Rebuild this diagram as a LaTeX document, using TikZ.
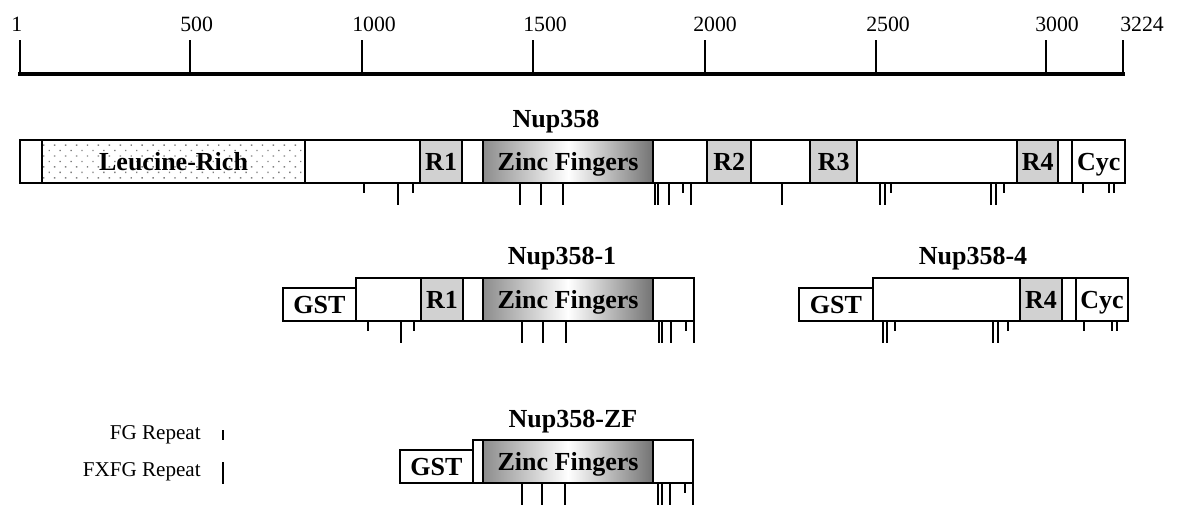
\documentclass[tikz,border=0pt]{standalone}
\usepackage{fontspec}
\setmainfont{Liberation Serif}
\usepackage{tikz}
\usetikzlibrary{positioning, patterns.meta}

\begin{document}
\begin{tikzpicture}[
  x=0.025cm, y=-0.025cm,
  seg/.style={draw, line width=1.3pt, outer sep=0pt, inner sep=0pt, minimum height=1.075cm, text height=12.6pt, text depth=0pt, font=\fontsize{18.5}{20}\selectfont\bfseries},
  plain/.style={seg, fill=white},
  rpt/.style={seg, fill=black!18},
  znf/.style={seg, left color=black!45, right color=black!55, middle color=white},
  lrr/.style={seg, pattern={Dots[distance=5.5pt, radius=0.7pt, angle=45]}, pattern color=black!50},
  gst/.style={seg, fill=white, minimum height=0.825cm},
  title/.style={font=\fontsize{18.5}{20}\selectfont\bfseries, anchor=base, inner sep=0pt},
  num/.style={font=\fontsize{15.5}{17}\selectfont, anchor=base west, inner sep=0pt},
  legtxt/.style={font=\fontsize{15}{16}\selectfont, anchor=east, inner sep=0pt},
  fg/.style={line width=1.3pt},
]
\useasboundingbox (0,0) rectangle (1181,506);

%% Scale bar
\draw[line width=2.2pt, line cap=rect] (20,74) -- (1123,74);
\foreach \x/\lab/\dx in {20/1/-9, 190/500/-10, 362/1000/-10, 533/1500/-10, 705/2000/-12, 876/2500/-10, 1046/3000/-11, 1123/3224/-3}{
  \draw[line width=1.6pt] (\x,40) -- (\x,74);
  \node[num] at (\x+\dx,31) {\lab};
}

%% Nup358
\node[title] (tnup) at (556,127) {Nup358};
\node[plain, anchor=north west, minimum width=0.55cm] (n0) at (20,140) {};
\node[lrr, right=0pt of n0, minimum width=6.575cm] (lrr) {Leucine-Rich};
\node[plain, right=0pt of lrr, minimum width=2.875cm] (n1) {};
\node[rpt, right=0pt of n1, minimum width=1.05cm] (r1) {R1};
\node[plain, right=0pt of r1, minimum width=0.525cm] (n2) {};
\node[znf, right=0pt of n2, minimum width=4.25cm] (zf) {Zinc Fingers};
\node[plain, right=0pt of zf, minimum width=1.35cm] (n3) {};
\node[rpt, right=0pt of n3, minimum width=1.1cm] (r2) {R2};
\node[plain, right=0pt of r2, minimum width=1.475cm] (n4) {};
\node[rpt, right=0pt of n4, minimum width=1.175cm] (r3) {R3};
\node[plain, right=0pt of r3, minimum width=4.0cm] (n5) {};
\node[rpt, right=0pt of n5, minimum width=1.025cm] (r4) {R4};
\node[plain, right=0pt of r4, minimum width=0.35cm] (n6) {};
\node[plain, right=0pt of n6, minimum width=1.325cm] (cyc) {Cyc};
\foreach \x/\l in {364/10, 398/22, 413/10, 520/22, 541/22, 563/22, 655/22, 658/22, 669/22, 683/10, 691/22, 782/22, 880/22, 885/22, 891/10, 991/22, 996/22, 1004/10, 1083/10, 1109/10, 1114/10}
  \draw[fg] (\x,183) -- ++(0,\l);

%% Nup358-1
\node[title] (tone) at (562,264) {Nup358-1};
\node[gst, anchor=north west, minimum width=1.825cm] (gsta) at (283,288) {GST};
\node[plain, anchor=south west, minimum width=1.625cm] (a0) at (gsta.south east) {};
\node[rpt, right=0pt of a0, minimum width=1.05cm] (ar1) {R1};
\node[plain, right=0pt of ar1, minimum width=0.5cm] (a1) {};
\node[znf, right=0pt of a1, minimum width=4.25cm] (azf) {Zinc Fingers};
\node[plain, right=0pt of azf, minimum width=1.025cm] (a2) {};
\foreach \x/\l in {368/10, 401/22, 414/10, 522/22, 543/22, 566/22, 659/22, 662/22, 671/22, 686/10, 694/22}
  \draw[fg] (\x,321) -- ++(0,\l);

%% Nup358-4
\node[title] (tfour) at (973,264) {Nup358-4};
\node[gst, anchor=north west, minimum width=1.85cm] (gstb) at (799,288) {GST};
\node[plain, anchor=south west, minimum width=3.675cm] (b0) at (gstb.south east) {};
\node[rpt, right=0pt of b0, minimum width=1.05cm] (br4) {R4};
\node[plain, right=0pt of br4, minimum width=0.35cm] (b1) {};
\node[plain, right=0pt of b1, minimum width=1.3cm] (bcyc) {Cyc};
\foreach \x/\l in {883/22, 887/22, 895/10, 993/22, 998/22, 1008/10, 1084/10, 1112/10, 1117/10}
  \draw[fg] (\x,321) -- ++(0,\l);

%% Nup358-ZF
\node[title] (tzf) at (573,427) {Nup358-ZF};
\node[gst, anchor=north west, minimum width=1.825cm] (gstc) at (400,450) {GST};
\node[plain, anchor=south west, minimum width=0.25cm] (c0) at (gstc.south east) {};
\node[znf, right=0pt of c0, minimum width=4.25cm] (czf) {Zinc Fingers};
\node[plain, right=0pt of czf, minimum width=1.0cm] (c1) {};
\foreach \x/\l in {522/22, 542/22, 565/22, 658/22, 662/22, 670/22, 685/10, 693/22}
  \draw[fg] (\x,483) -- ++(0,\l);

%% Legend
\node[legtxt] (legfg) at (201,435) {FG Repeat};
\draw[fg] (223,430) -- ++(0,10);
\node[legtxt] (legfx) at (201,472) {FXFG Repeat};
\draw[fg] (223,462) -- ++(0,22);

\end{tikzpicture}
\end{document}
